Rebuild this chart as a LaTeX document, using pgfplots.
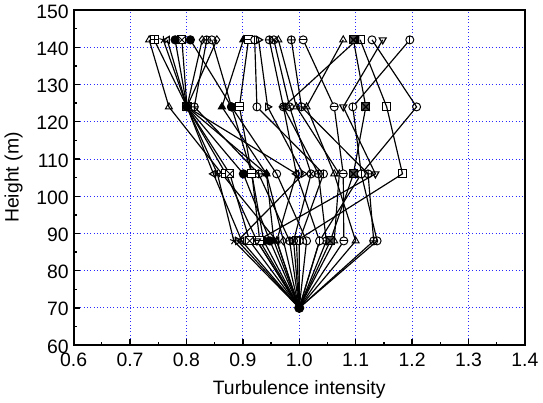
\documentclass[border=0pt]{standalone}
\usepackage{pgfplots}
\pgfplotsset{compat=1.18}
\usepackage{fontspec}
\setmainfont{Liberation Sans}
\usetikzlibrary{plotmarks}

% boxed and circled marks with an inner stroke
\pgfdeclareplotmark{boxplus}{%
  \pgfpathrectangle{\pgfpoint{-\pgfplotmarksize}{-\pgfplotmarksize}}{\pgfpoint{2\pgfplotmarksize}{2\pgfplotmarksize}}%
  \pgfusepathqfillstroke
  \pgfpathmoveto{\pgfpoint{-\pgfplotmarksize}{0pt}}\pgfpathlineto{\pgfpoint{\pgfplotmarksize}{0pt}}%
  \pgfpathmoveto{\pgfpoint{0pt}{-\pgfplotmarksize}}\pgfpathlineto{\pgfpoint{0pt}{\pgfplotmarksize}}%
  \pgfusepathqstroke}
\pgfdeclareplotmark{boxtimes}{%
  \pgfpathrectangle{\pgfpoint{-\pgfplotmarksize}{-\pgfplotmarksize}}{\pgfpoint{2\pgfplotmarksize}{2\pgfplotmarksize}}%
  \pgfusepathqfillstroke
  \pgfpathmoveto{\pgfpoint{-\pgfplotmarksize}{-\pgfplotmarksize}}\pgfpathlineto{\pgfpoint{\pgfplotmarksize}{\pgfplotmarksize}}%
  \pgfpathmoveto{\pgfpoint{-\pgfplotmarksize}{\pgfplotmarksize}}\pgfpathlineto{\pgfpoint{\pgfplotmarksize}{-\pgfplotmarksize}}%
  \pgfusepathqstroke}
\pgfdeclareplotmark{boxminus}{%
  \pgfpathrectangle{\pgfpoint{-\pgfplotmarksize}{-\pgfplotmarksize}}{\pgfpoint{2\pgfplotmarksize}{2\pgfplotmarksize}}%
  \pgfusepathqfillstroke
  \pgfpathmoveto{\pgfpoint{-\pgfplotmarksize}{0pt}}\pgfpathlineto{\pgfpoint{\pgfplotmarksize}{0pt}}%
  \pgfusepathqstroke}
\pgfdeclareplotmark{ominus}{%
  \pgfpathcircle{\pgfpoint{0pt}{0pt}}{\pgfplotmarksize}%
  \pgfusepathqfillstroke
  \pgfpathmoveto{\pgfpoint{-\pgfplotmarksize}{0pt}}\pgfpathlineto{\pgfpoint{\pgfplotmarksize}{0pt}}%
  \pgfusepathqstroke}
\pgfdeclareplotmark{obar}{%
  \pgfpathcircle{\pgfpoint{0pt}{0pt}}{\pgfplotmarksize}%
  \pgfusepathqfillstroke
  \pgfpathmoveto{\pgfpoint{0pt}{-\pgfplotmarksize}}\pgfpathlineto{\pgfpoint{0pt}{\pgfplotmarksize}}%
  \pgfusepathqstroke}

\definecolor{gridblue}{RGB}{40,40,255}

\begin{document}
\begin{tikzpicture}
\begin{axis}[
  scale only axis,
  width=326pt, height=242pt,
  xmin=0.6, xmax=1.4,
  ymin=60, ymax=150,
  xtick={0.6,0.7,...,1.41},
  ytick={60,70,...,150},
  minor tick num=1,
  xticklabel style={/pgf/number format/fixed,/pgf/number format/precision=1,/pgf/number format/fixed zerofill},
  /pgf/number format/assume math mode=true,
  tick label style={font=\fontsize{14}{16}\selectfont},
  label style={font=\fontsize{14}{16}\selectfont},
  xlabel={Turbulence intensity},
  ylabel={Height (m)},
  xlabel style={yshift=-3pt},
  ylabel style={yshift=3pt},
  xticklabel style={yshift=-2pt},
  yticklabel style={yshift=-1pt},
  xtick pos=bottom, ytick pos=left,
  tick align=inside,
  major tick length=4.5pt, minor tick length=2.5pt,
  tick style={black, line width=1pt},
  axis line style={black, line width=1.4pt},
  grid=major,
  major grid style={draw=gridblue, dotted, line width=0.7pt},
  every axis plot/.append style={black, line width=0.85pt, mark size=2.9pt, mark indices={2,3,4,5},
    mark options={solid, fill=white, line width=0.7pt}},
  clip=false,
]
\addplot[mark=triangle] coordinates {(1.0,70) (0.960,88) (0.863,106) (0.769,124) (0.734,142)};
\addplot[mark=boxplus] coordinates {(1.0,70) (0.925,88) (0.870,106) (0.801,124) (0.743,142)};
\addplot[mark=star] coordinates {(1.0,70) (0.884,88) (0.855,106) (0.801,124) (0.759,142)};
\addplot[mark=triangle, mark options={rotate=90}] coordinates {(1.0,70) (0.898,88) (0.848,106) (0.801,124) (0.766,142)};
\addplot[mark=boxtimes] coordinates {(1.0,70) (0.912,88) (0.877,106) (0.801,124) (0.792,142)};
\addplot[mark=*, mark options={fill=black}] coordinates {(1.0,70) (0.937,88) (0.916,106) (0.880,124) (0.807,142)};
\addplot[mark=*, mark options={fill=black}] coordinates {(1.0,70) (0.948,88) (0.901,106) (0.801,124) (0.780,142)};
\addplot[mark=diamond] coordinates {(1.0,70) (0.972,88) (0.942,106) (0.801,124) (0.828,142)};
\addplot[mark=oplus] coordinates {(1.0,70) (0.983,88) (0.928,106) (0.814,124) (0.836,142)};
\addplot[mark=o] coordinates {(1.0,70) (1.013,88) (0.960,106) (0.880,124) (0.845,142)};
\addplot[mark=diamond] coordinates {(1.0,70) (1.036,88) (0.995,106) (0.801,124) (0.854,142)};
\addplot[mark=triangle*, mark options={fill=black}] coordinates {(1.0,70) (0.955,88) (0.942,106) (0.863,124) (0.901,142)};
\addplot[mark=boxminus] coordinates {(1.0,70) (0.930,88) (0.916,106) (0.894,124) (0.910,142)};
\addplot[mark=obar] coordinates {(1.0,70) (1.000,88) (1.043,106) (0.925,124) (0.921,142)};
\addplot[mark=triangle, mark options={rotate=-90}] coordinates {(1.0,70) (0.891,88) (1.007,106) (0.944,124) (0.928,142)};
\addplot[mark=oplus] coordinates {(1.0,70) (1.048,88) (1.034,106) (0.972,124) (0.947,142)};
\addplot[mark=otimes] coordinates {(1.0,70) (0.990,88) (1.021,106) (0.983,124) (0.955,142)};
\addplot[mark=triangle] coordinates {(1.0,70) (1.062,88) (1.071,106) (0.995,124) (0.963,142)};
\addplot[mark=oplus] coordinates {(1.0,70) (1.132,88) (1.122,106) (1.004,124) (0.986,142)};
\addplot[mark=ominus] coordinates {(1.0,70) (1.079,88) (1.078,106) (1.062,124) (1.007,142)};
\addplot[mark=triangle] coordinates {(1.0,70) (1.100,88) (1.062,106) (1.013,124) (1.078,142)};
\addplot[mark=boxtimes, mark options={fill=black!70}] coordinates {(1.0,70) (1.055,88) (1.096,106) (1.118,124) (1.096,142)};
\addplot[mark=square] coordinates {(1.0,70) (0.995,88) (1.183,106) (1.155,124) (1.108,142)};
\addplot[mark=o] coordinates {(1.0,70) (1.138,88) (1.110,106) (1.208,124) (1.129,142)};
\addplot[mark=triangle, mark options={rotate=180}] coordinates {(1.0,70) (0.925,88) (1.135,106) (1.078,124) (1.148,142)};
\addplot[mark=obar] coordinates {(1.0,70) (1.036,88) (1.110,106) (1.095,124) (1.196,142)};
\addplot[mark=triangle, mark options={rotate=90}] coordinates {(1.0,70) (0.960,88) (0.995,106) (0.972,124) (1.102,142)};
% common starting point at 70 m
\addplot[mark=*, mark indices={1}, mark size=3.2pt, mark options={fill=black}] coordinates {(1.0,70)};
\end{axis}
\end{tikzpicture}
\end{document}
